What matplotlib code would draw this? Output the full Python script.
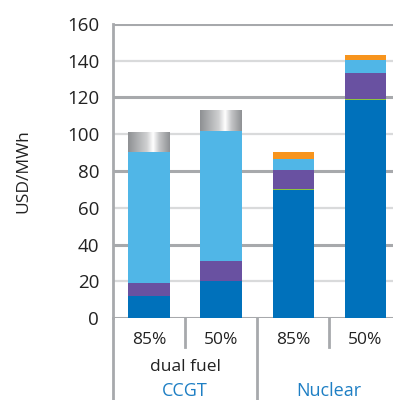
import numpy as np
import matplotlib.pyplot as plt
from matplotlib.colors import LinearSegmentedColormap

plt.rcParams['font.family'] = ['Open Sans', 'DejaVu Sans']

# Данные
scenarios = ['85%', '50%', '85%', '50%']
groups = ['CCGT', 'Nuclear']
dark_blue = [12, 20, 69.5, 118.5]
green = [0, 0, 0.8, 0.8]
purple = [7, 11, 10, 14]
light_blue = [71.5, 71, 6.5, 7]
orange = [0, 0, 3.5, 3]
grey = [10.5, 11, 0, 0]
yticks = [0, 20, 40, 60, 80, 100, 120, 140, 160]

fig = plt.figure(figsize=(3.93, 4.0), dpi=100)
ax = fig.add_axes([0.2875, 0.205, 0.733, 0.735])

x = np.arange(len(scenarios))
w = 0.57
line_grey = '#a7a9ac'

# сетка
for v in yticks:
    dark = (v // 20) % 2 == 0
    ax.axhline(v, color='#a7a9ac' if dark else '#d9dadb', lw=2.2 if dark else 1.6, zorder=0)

bottom = np.zeros(len(x))
layers = [(dark_blue, '#0071bb'), (green, '#8dc63f'), (purple, '#6951a1'),
          (light_blue, '#50b6e7'), (orange, '#f7941d')]
for vals, col in layers:
    ax.bar(x, vals, w, bottom=bottom, color=col, lw=0, zorder=2)
    bottom += np.array(vals)

# серый сегмент с градиентом
cmap = LinearSegmentedColormap.from_list('metal', [(0, '#8e9093'), (0.45, '#cfd0d1'),
                                                   (0.6, '#ffffff'), (0.75, '#c4c5c7'),
                                                   (1, '#8e9093')])
grad = np.linspace(0, 1, 256).reshape(1, -1)
for i, g in enumerate(grey):
    if g <= 0:
        continue
    b = ax.bar(x[i], g, w, bottom=bottom[i], color='none', lw=0, zorder=2)[0]
    im = ax.imshow(grad, cmap=cmap, aspect='auto', zorder=2,
                   extent=(x[i] - w / 2, x[i] + w / 2, bottom[i], bottom[i] + g))
    im.set_clip_path(b)

ax.set_xlim(-0.5, 3.5)
ax.set_ylim(0, 160)
for s in ['top', 'right', 'bottom']:
    ax.spines[s].set_visible(False)
ax.spines['left'].set_color(line_grey)
ax.spines['left'].set_linewidth(2)
ax.set_xticks([])
ax.set_yticks(yticks)
ax.tick_params(axis='y', length=0, pad=10, labelsize=13.5, colors='#222222')
ax.set_ylabel('USD/MWh', fontsize=12.5, color='#222222')
ax.yaxis.set_label_coords(-0.285, 0.5)

# подписи под осью
tr = ax.get_xaxis_transform()
for xi, lab in zip(x, scenarios):
    ax.text(xi, -0.075, lab, transform=tr, ha='center', va='center', fontsize=12.5, color='#222222')
for xs in [0.5, 2.5]:
    ax.plot([xs, xs], [0, -0.1], transform=tr, color=line_grey, lw=2, clip_on=False)
for xs in [-0.5, 1.5]:
    ax.plot([xs, xs], [0, -0.29], transform=tr, color=line_grey, lw=2, clip_on=False)
ax.text(0.5, -0.165, 'dual fuel', transform=tr, ha='center', va='center', fontsize=12.5, color='#222222')
ax.text(0.5, -0.248, groups[0], transform=tr, ha='center', va='center', fontsize=13, color='#1e7fc4')
ax.text(2.5, -0.248, groups[1], transform=tr, ha='center', va='center', fontsize=13, color='#1e7fc4')

fig.savefig('out.png', dpi=100)
